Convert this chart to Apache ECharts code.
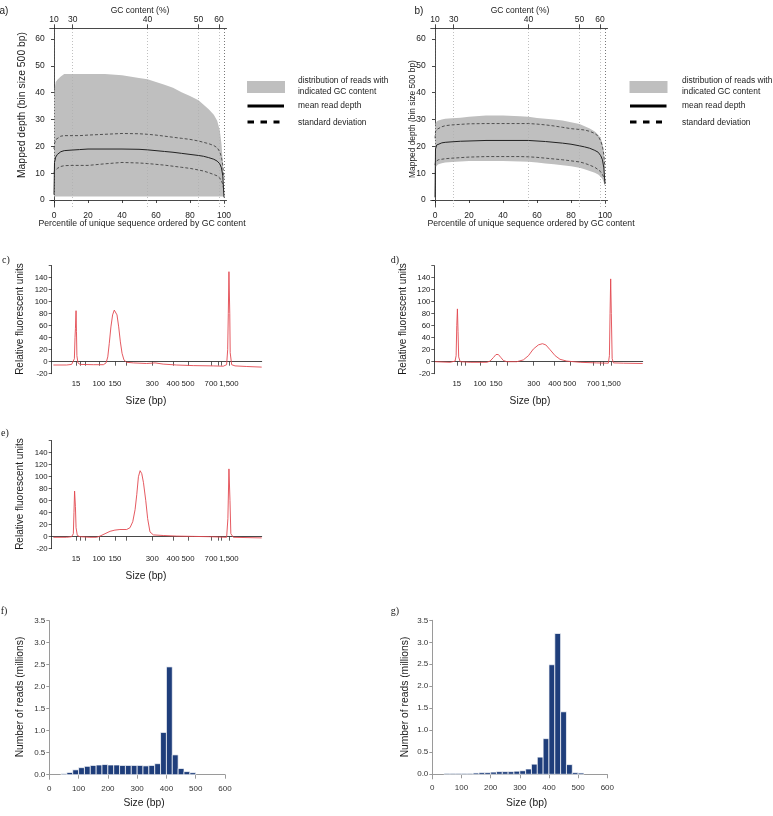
<!DOCTYPE html>
<html><head><meta charset="utf-8">
<script src="https://cdn.jsdelivr.net/npm/echarts@6/dist/echarts.min.js"></script>
<style>html,body{margin:0;padding:0;background:#fff}#c{width:773px;height:816px}</style>
</head><body><div id="c"></div>
<script>
// ---------- Panels a & b: depth vs GC percentile ----------
const pctGrid = [0, 0.3, 1, 2, 4, 6, 10, 15, 20, 30, 40, 50, 55, 60, 65, 70, 75, 80, 85, 88, 91, 94, 96, 97.5, 98.5, 99.3, 100];
const aBandHigh = [38, 41, 44, 44.8, 46, 47, 47, 47, 47, 47, 46.5, 45.5, 45, 44, 43, 41.8, 40.2, 38.8, 37.2, 35.5, 33.8, 31.8, 29.5, 26, 21, 14, 2];
const aBandLow  = [1.3, 1.3, 1.3, 1.3, 1.3, 1.3, 1.3, 1.3, 1.3, 1.3, 1.3, 1.3, 1.3, 1.3, 1.3, 1.3, 1.3, 1.3, 1.3, 1.3, 1.3, 1.3, 1.3, 1.3, 1.3, 1.3, 1.3];
const aMean     = [2, 14, 16, 17, 18, 18.4, 18.6, 18.8, 19, 19, 19, 18.9, 18.7, 18.4, 18.1, 17.8, 17.4, 17, 16.6, 16.3, 15.8, 15.2, 14.5, 13.5, 12, 9, 1];
const aSdHigh   = [19, 21, 22.5, 23.2, 23.8, 24, 24, 24, 24.2, 24.5, 24.8, 24.7, 24.5, 24.2, 23.8, 23.4, 23, 22.6, 22, 21.5, 21, 20.3, 19.5, 18, 16, 13, 8];
const aSdLow    = [10, 10.8, 11.3, 11.8, 12.5, 12.8, 12.9, 12.9, 12.9, 13.5, 14, 13.8, 13.6, 13.3, 13, 12.6, 12.2, 11.8, 11.2, 10.8, 10.2, 9.5, 9, 8.2, 7.5, 6, 3];

const bBandHigh = [27, 28.5, 29.3, 29.6, 30, 30.3, 30.5, 30.7, 31, 31.5, 31.5, 31.2, 31, 30.6, 30.3, 30, 29.6, 29, 28.3, 27.5, 26.7, 25.5, 24.3, 23, 21, 18, 12];
const bBandLow  = [11, 12, 12.8, 13.3, 13.7, 14, 14.2, 14.4, 14.5, 14.5, 14.5, 14.4, 14.3, 14, 13.6, 13.3, 13, 12.6, 12, 11.5, 10.8, 10.2, 9.5, 8.7, 7.8, 6.5, 5];
const bMean     = [1, 19, 20.5, 21, 21.3, 21.5, 21.7, 21.9, 22, 22.2, 22.2, 22.2, 22.2, 22, 21.8, 21.5, 21.2, 20.8, 20.2, 19.8, 19.3, 18.5, 17.8, 16.5, 15, 12, 6];
const bSdHigh   = [23, 25.5, 26.3, 26.8, 27.3, 27.7, 28, 28.2, 28.4, 28.5, 28.5, 28.5, 28.5, 28.3, 28, 27.6, 27.1, 26.6, 26.3, 26.1, 25.6, 24.8, 23.8, 22, 20, 17, 12];
const bSdLow    = [13, 14.3, 14.8, 15, 15.2, 15.4, 15.6, 15.8, 16, 16.2, 16.2, 16.2, 16.1, 15.9, 15.6, 15.3, 15, 14.6, 14.2, 13.7, 13, 12.2, 11.3, 10.5, 9.5, 8.5, 7];

const pctTicks = [0, 20, 40, 60, 80, 100];
const depthTicks = [0, 10, 20, 30, 40, 50, 60];
const gcTickPos = [0, 11, 55, 85, 97];
const gcTickLabels = ['10', '30', '40', '50', '60'];
const guideEnd = 100;

// ---------- Panels c, d, e: electropherograms ----------
const ladderPos    = [11.6, 13.5, 15.8, 22.5, 30.1, 35.4, 47.9, 57.8, 64.9, 75.9, 79.4, 80.6, 84.4];
const ladderLabels = ['15', '', '', '100', '150', '', '300', '400', '500', '700', '', '', '1,500'];
const rfuTicks  = [-20, 0, 20, 40, 60, 80, 100, 120, 140, 160];
const rfuLabels = [-20, 0, 20, 40, 60, 80, 100, 120, 140];

const cPos = [0.8, 7.1, 9.5, 10.3, 10.8, 11.1, 11.3, 11.6, 11.8, 12.0, 12.5, 13.5, 19.8, 24.6, 25.9, 26.7, 27.4, 28.2, 29.0, 29.8, 30.5, 31.1, 31.9, 32.7, 33.5, 34.4, 35.7, 38.9, 45.2, 49.2, 53.1, 59.5, 67.4, 77.0, 81.7, 83.3, 83.8, 84.1, 84.4, 84.8, 85.0, 85.7, 87.3, 92.9, 100];
const cRfu = [-5.5, -5.5, -4.5, -2, 5, 40, 55, 85, 50, 10, -2, -4.5, -5, -5, -2, 8, 30, 58, 78, 86, 85, 78, 58, 33, 14, 3, -1, -2, -3, -2, -4, -5.5, -6.5, -7, -7.5, -5, 20, 80, 150, 80, 15, -5, -7, -8, -9];

const dPos = [1.4, 8.4, 10.8, 11.3, 11.6, 11.9, 12.2, 12.5, 13.2, 17.9, 25.8, 27.3, 28.9, 30.1, 31.2, 32.4, 33.6, 35.2, 39.9, 43.0, 45.4, 47.7, 50.1, 52.0, 53.6, 55.6, 58.0, 60.3, 63.5, 69.8, 77.6, 83.1, 83.6, 83.9, 84.2, 84.5, 84.9, 85.5, 90.2, 99.3];
const dRfu = [0, -1, 1, 10, 60, 88, 50, 8, 0, -1, -1, 1, 7, 12, 12, 7, 2, 0, 0, 3, 10, 21, 28, 30, 28, 20, 10, 4, 1, -1, -2, -2.5, 10, 80, 138, 80, 5, -2, -2.5, -3];

const ePos = [0.8, 7.1, 9.5, 10.3, 10.6, 10.9, 11.3, 11.6, 12.2, 13.5, 18.2, 21.4, 23.0, 25.4, 27.8, 30.1, 32.5, 35.7, 37.3, 38.6, 39.7, 40.5, 41.3, 42.1, 42.9, 43.7, 44.8, 45.7, 46.8, 48.4, 53.1, 59.5, 67.4, 75.2, 83.3, 83.9, 84.4, 84.9, 85.3, 86.5, 100];
const eRfu = [-1, -1, 0, 5, 40, 76, 50, 15, 2, 0, -1, -1, 1, 5, 9, 11, 12, 12, 15, 25, 45, 70, 100, 110, 105, 90, 60, 30, 8, 3, 2, 1, 0.5, 0, -1, 30, 113, 60, 5, -1, -2];

// ---------- Panels f, g: fragment size histograms ----------
const BIN_WIDTH = 20;
const fBins  = [40, 60, 80, 100, 120, 140, 160, 180, 200, 220, 240, 260, 280, 300, 320, 340, 360, 380, 400, 420, 440, 460, 480];
const fReads = [0.02, 0.05, 0.11, 0.16, 0.19, 0.21, 0.22, 0.23, 0.22, 0.22, 0.21, 0.21, 0.21, 0.21, 0.20, 0.21, 0.25, 0.96, 2.45, 0.45, 0.14, 0.07, 0.045];
const gBins  = [40, 60, 80, 100, 120, 140, 160, 180, 200, 220, 240, 260, 280, 300, 320, 340, 360, 380, 400, 420, 440, 460, 480, 500];
const gReads = [0.02, 0.02, 0.02, 0.02, 0.02, 0.03, 0.04, 0.04, 0.05, 0.06, 0.06, 0.06, 0.07, 0.08, 0.12, 0.23, 0.39, 0.81, 2.49, 3.2, 1.42, 0.22, 0.04, 0.03];
const readTicks = [0, 0.5, 1, 1.5, 2, 2.5, 3, 3.5];

// ---------- styling helpers ----------
const FONT = "'Liberation Sans', Arial, Helvetica, sans-serif";
const SERIF = "'Liberation Serif', 'Times New Roman', serif";
const INK = '#1a1a1a';
const GRAYAX = '#9a9a9a';

function line(color, w) { return { show: true, lineStyle: { color: color, width: w } }; }
function lab(size, extra) { return Object.assign({ fontSize: size, color: '#222', fontFamily: FONT }, extra || {}); }
function labelFrom(posArr, textArr) {
  return function (v) {
    for (let i = 0; i < posArr.length; i++) if (Math.abs(posArr[i] - v) < 1e-6) return textArr[i];
    return '';
  };
}
const ladderLabelPos = ladderPos.filter((p, i) => ladderLabels[i] !== '');

function pairs(xs, ys) { return xs.map((x, i) => [x, ys[i]]); }

function bandSeries(xi, yi, pct, lo, hi) {
  return {
    type: 'custom', xAxisIndex: xi, yAxisIndex: yi, silent: true, z: 1,
    data: [[pct[0], lo[0]]], encode: { x: 0, y: 1 },
    renderItem: function (params, api) {
      const pts = [];
      for (let i = 0; i < pct.length; i++) pts.push(api.coord([pct[i], hi[i]]));
      for (let i = pct.length - 1; i >= 0; i--) pts.push(api.coord([pct[i], lo[i]]));
      return { type: 'polygon', shape: { points: pts }, style: { fill: '#bfbfbf' } };
    }
  };
}
function guideLines() {
  const d = gcTickPos.map((p, i) => ({ xAxis: p, lineStyle: { color: i === 0 ? '#555' : '#b0b0b0', type: [1, 2], width: 0.8 } }));
  d.push({ xAxis: guideEnd, lineStyle: { color: '#555', type: [1, 2], width: 0.8 } });
  return { silent: true, symbol: ['none', 'none'], label: { show: false }, data: d, z: 2 };
}
function depthLines(xi, yi, mean, hi, lo) {
  return [
    { type: 'line', xAxisIndex: xi, yAxisIndex: yi, data: pairs(pctGrid, mean), showSymbol: false, symbol: 'none',
      lineStyle: { color: '#222', width: 1 }, z: 3, markLine: guideLines() },
    { type: 'line', xAxisIndex: xi, yAxisIndex: yi, data: pairs(pctGrid, hi), showSymbol: false, symbol: 'none',
      lineStyle: { color: '#333', width: 0.8, type: [3, 2] }, z: 3 },
    { type: 'line', xAxisIndex: xi, yAxisIndex: yi, data: pairs(pctGrid, lo), showSymbol: false, symbol: 'none',
      lineStyle: { color: '#333', width: 0.8, type: [3, 2] }, z: 3 }
  ];
}
function traceSeries(xi, yi, xs, ys) {
  return { type: 'line', xAxisIndex: xi, yAxisIndex: yi, data: pairs(xs, ys), showSymbol: false, symbol: 'none',
    lineStyle: { color: '#e2474f', width: 0.9 }, z: 3 };
}
function histSeries(xi, yi, bins, vals) {
  return {
    type: 'custom', xAxisIndex: xi, yAxisIndex: yi, data: pairs(bins, vals), encode: { x: 0, y: 1 },
    renderItem: function (params, api) {
      const x0 = api.value(0), v = api.value(1);
      const p0 = api.coord([x0, 0]), p1 = api.coord([x0 + BIN_WIDTH, v]);
      return { type: 'rect', shape: { x: p0[0], y: p1[1], width: p1[0] - p0[0], height: p0[1] - p1[1] },
        style: { fill: '#1f3e7b', stroke: '#ffffff', lineWidth: 0.7 } };
    }
  };
}

// ---------- axes ----------
function pctBottom(g) {
  return { gridIndex: g, type: 'value', min: -2.5, max: 101.5, position: 'bottom',
    axisLine: line(INK, 0.8), axisTick: { show: true, length: 3, customValues: pctTicks, lineStyle: { color: INK, width: 0.8 } },
    axisLabel: lab(8.5, { customValues: pctTicks, margin: 4 }), splitLine: { show: false } };
}
function gcTop(g) {
  return { gridIndex: g, type: 'value', min: -2.5, max: 101.5, position: 'top',
    axisLine: line(INK, 0.8), axisTick: { show: true, length: 4, customValues: gcTickPos, lineStyle: { color: INK, width: 0.8 } },
    axisLabel: lab(8.5, { customValues: gcTickPos, margin: 4, formatter: labelFrom(gcTickPos, gcTickLabels) }), splitLine: { show: false } };
}
function depthY(g) {
  return { gridIndex: g, type: 'value', min: -2.6, max: 64,
    axisLine: line(INK, 0.8), axisTick: { show: true, length: 3, customValues: depthTicks, lineStyle: { color: INK, width: 0.8 } },
    axisLabel: lab(8.5, { customValues: depthTicks, margin: 5 }), splitLine: { show: false } };
}
function sizeX(g, mn, mx) {
  return { gridIndex: g, type: 'value', min: mn, max: mx,
    axisLine: line(INK, 0.8), axisTick: { show: true, length: 4, customValues: ladderPos, lineStyle: { color: INK, width: 0.7 } },
    axisLabel: lab(7.8, { customValues: ladderLabelPos, margin: 6, formatter: labelFrom(ladderPos, ladderLabels) }), splitLine: { show: false } };
}
function rfuY(g) {
  return { gridIndex: g, type: 'value', min: -20, max: 160,
    axisLine: line(INK, 0.8), axisTick: { show: true, length: 3, customValues: rfuTicks, lineStyle: { color: INK, width: 0.7 } },
    axisLabel: lab(7.8, { customValues: rfuLabels, margin: 4 }), splitLine: { show: false } };
}
function histX(g) {
  return { gridIndex: g, type: 'value', min: 0, max: 600, interval: 100,
    axisLine: line(GRAYAX, 1), axisTick: { show: true, length: 4, lineStyle: { color: GRAYAX, width: 1 } },
    axisLabel: lab(8, { margin: 5, color: '#333' }), splitLine: { show: false } };
}
function histY(g) {
  return { gridIndex: g, type: 'value', min: -0.105, max: 3.5,
    axisLine: line(GRAYAX, 1), axisTick: { show: true, length: 3, customValues: readTicks, lineStyle: { color: GRAYAX, width: 1 } },
    axisLabel: lab(8, { customValues: readTicks, margin: 4, color: '#333', formatter: v => v.toFixed(1) }), splitLine: { show: false } };
}

// ---------- graphic text ----------
function txt(x, y, s, size, o) {
  o = o || {};
  return { type: 'text', x: x, y: y, rotation: o.rot || 0, silent: true,
    style: { text: s, fontSize: size, fontFamily: o.font || FONT, fill: o.fill || '#1a1a1a',
      align: o.align || 'center', verticalAlign: 'middle' } };
}
const R = Math.PI / 2;
function legend(dx, tx) {
  return [
    { type: 'rect', shape: { x: 247 + dx, y: 81, width: 38, height: 12 }, style: { fill: '#bfbfbf' }, silent: true },
    txt(tx, 80.5, 'distribution of reads with', 8.4, { align: 'left' }),
    txt(tx, 91.7, 'indicated GC content', 8.4, { align: 'left' }),
    { type: 'line', shape: { x1: 247.5 + dx, y1: 106, x2: 284 + dx, y2: 106 }, style: { stroke: '#000', lineWidth: 3 }, silent: true },
    txt(tx, 106, 'mean read depth', 8.4, { align: 'left' }),
    { type: 'line', shape: { x1: 247.5 + dx, y1: 122, x2: 279.5 + dx, y2: 122 }, style: { stroke: '#000', lineWidth: 3, lineDash: [6.5, 6.5] }, silent: true },
    txt(tx, 122.3, 'standard deviation', 8.4, { align: 'left' })
  ];
}

const graphics = [].concat(
  [
    txt(4, 11, 'a)', 10), txt(419, 11, 'b)', 10),
    txt(140, 10.7, 'GC content (%)', 8.5), txt(520, 10.7, 'GC content (%)', 8.5),
    txt(22.5, 105, 'Mapped depth (bin size 500 bp)', 10.4, { rot: R }),
    txt(413, 119, 'Mapped depth (bin size 500 bp)', 8.4, { rot: R }),
    txt(142, 224, 'Percentile of unique sequence ordered by GC content', 8.7),
    txt(531, 224, 'Percentile of unique sequence ordered by GC content', 8.7),
    txt(6, 260, 'c)', 10, { font: SERIF }), txt(395, 260, 'd)', 10, { font: SERIF }),
    txt(5, 433, 'e)', 10, { font: SERIF }),
    txt(4, 611, 'f)', 10, { font: SERIF }), txt(395, 611, 'g)', 10, { font: SERIF }),
    txt(20, 319, 'Relative fluorescent units', 10, { rot: R }),
    txt(403, 319, 'Relative fluorescent units', 10, { rot: R }),
    txt(20, 494, 'Relative fluorescent units', 10, { rot: R }),
    txt(146, 401, 'Size (bp)', 10.2), txt(530, 401, 'Size (bp)', 10.2), txt(146, 576, 'Size (bp)', 10.2),
    txt(20, 697, 'Number of reads (millions)', 10.3, { rot: R }),
    txt(405, 697, 'Number of reads (millions)', 10.3, { rot: R }),
    txt(144, 803.3, 'Size (bp)', 10.3), txt(526.7, 803.3, 'Size (bp)', 10.3)
  ],
  legend(0, 298), legend(382.5, 682)
);

const option = {
  animation: false,
  backgroundColor: '#ffffff',
  textStyle: { fontFamily: FONT },
  grid: [
    { left: 49.75, top: 28.3, width: 176.8, height: 178.7, outerBoundsMode: 'none' },
    { left: 430.75, top: 28.3, width: 176.8, height: 178.7, outerBoundsMode: 'none' },
    { left: 51.7, top: 265.7, width: 210, height: 108, outerBoundsMode: 'none' },
    { left: 434.3, top: 265.7, width: 208.4, height: 108, outerBoundsMode: 'none' },
    { left: 51.7, top: 440.7, width: 210, height: 108, outerBoundsMode: 'none' },
    { left: 49.3, top: 620.7, width: 175.7, height: 158.6, outerBoundsMode: 'none' },
    { left: 432.3, top: 620.3, width: 175, height: 158.6, outerBoundsMode: 'none' }
  ],
  xAxis: [
    pctBottom(0), gcTop(0), pctBottom(1), gcTop(1),
    sizeX(2, 0, 100), sizeX(3, 1.0, 99.3), sizeX(4, 0, 100),
    histX(5), histX(6)
  ],
  yAxis: [depthY(0), depthY(1), rfuY(2), rfuY(3), rfuY(4), histY(5), histY(6)],
  series: [].concat(
    [bandSeries(0, 0, pctGrid, aBandLow, aBandHigh)],
    depthLines(0, 0, aMean, aSdHigh, aSdLow),
    [bandSeries(2, 1, pctGrid, bBandLow, bBandHigh)],
    depthLines(2, 1, bMean, bSdHigh, bSdLow),
    [traceSeries(4, 2, cPos, cRfu), traceSeries(5, 3, dPos, dRfu), traceSeries(6, 4, ePos, eRfu)],
    [histSeries(7, 5, fBins, fReads), histSeries(8, 6, gBins, gReads)]
  ),
  graphic: graphics
};

const chart = echarts.init(document.getElementById('c'), null, { renderer: 'canvas', width: 773, height: 816 });
chart.setOption(option);
</script></body></html>
